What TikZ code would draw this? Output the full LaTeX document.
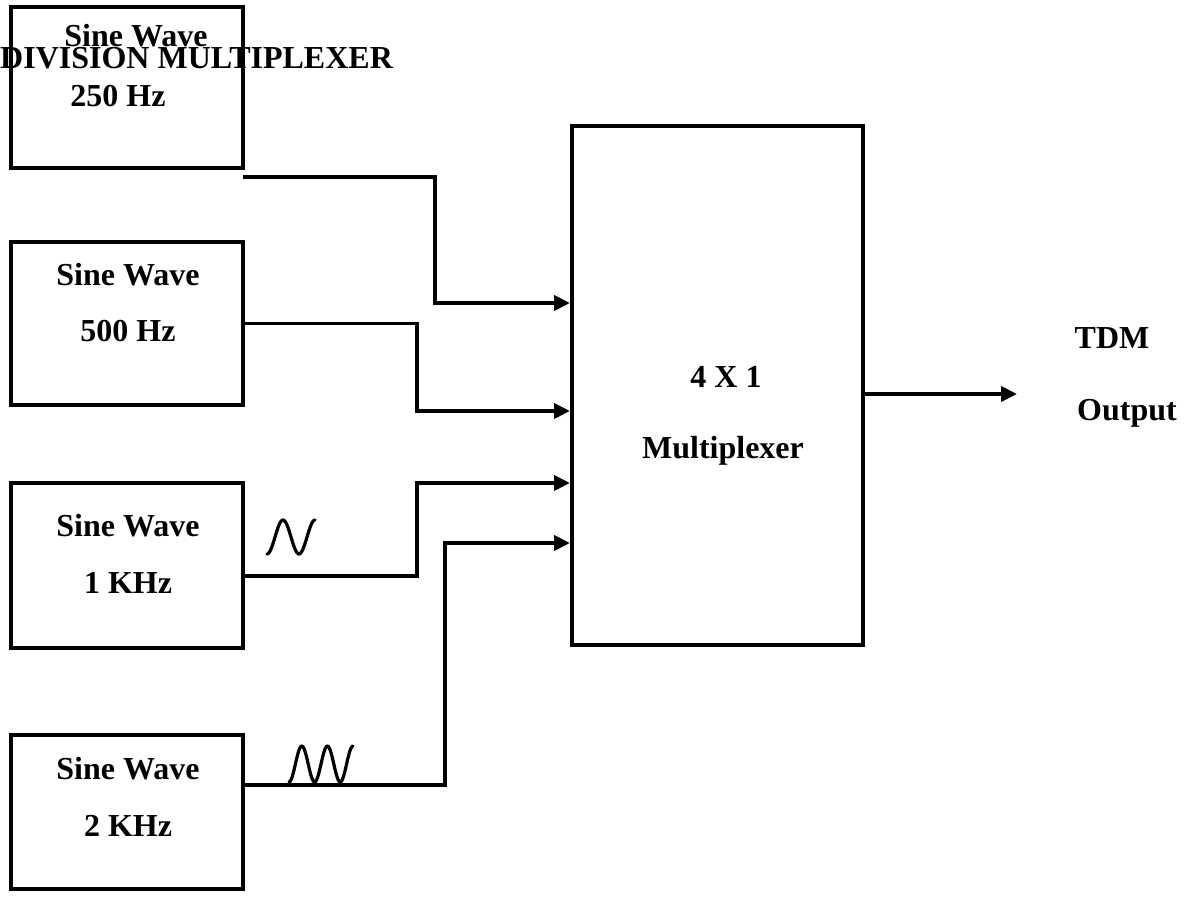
\documentclass[tikz,border=0pt]{standalone}
\usepackage{fontspec}
\setmainfont{Liberation Serif}
\usetikzlibrary{arrows.meta}

\begin{document}
\begin{tikzpicture}[
   x=1pt,y=-1pt,
   box/.style={draw,line width=4pt,inner sep=0pt,minimum width=232pt},
   txt/.style={font=\fontsize{32}{38}\selectfont\bfseries,inner sep=0pt,anchor=base},
   wire/.style={line width=3.8pt},
   wave/.style={line width=3.2pt,line cap=round,line join=round},
   >={Triangle[length=16pt,width=15pt]}]
  \useasboundingbox (0,0) rectangle (1185,899);
  % source boxes
  \node[box,minimum height=161pt] (b1) at (127,87.5) {};
  \node[box,minimum height=163pt] (b2) at (127,323.5) {};
  \node[box,minimum height=165pt] (b3) at (127,565.5) {};
  \node[box,minimum height=154pt] (b4) at (127,812) {};
  \node[box,minimum width=291pt,minimum height=519pt] (mux) at (717.5,385.5) {};
  % labels
  \node[txt] (t1a) at (136,47) {Sine Wave};
  \node[txt] (t1b) at (118,106) {250 Hz};
  \node[txt,anchor=base west] (title) at (0,68) {DIVISION MULTIPLEXER};
  \node[txt] (t2a) at (128,285) {Sine Wave};
  \node[txt] (t2b) at (128,341) {500 Hz};
  \node[txt] (t3a) at (128,536) {Sine Wave};
  \node[txt] (t3b) at (128,593) {1 KHz};
  \node[txt] (t4a) at (128,779) {Sine Wave};
  \node[txt] (t4b) at (128,836) {2 KHz};
  \node[txt] (m1) at (726,387) {4 X 1};
  \node[txt] (m2) at (723,458) {Multiplexer};
  \node[txt] (o1) at (1112,348) {TDM};
  \node[txt] (o2) at (1127,420) {Output};
  % mux inputs
  \coordinate (s1) at (243,177);
  \coordinate (in1) at (mux.west |- 0,303);
  \coordinate (in2) at (mux.west |- 0,411);
  \coordinate (in3) at (mux.west |- 0,483);
  \coordinate (in4) at (mux.west |- 0,543);
  \coordinate (out) at (1017,394);
  % connectors
  \draw[wire,->] (s1) -- (s1 -| 435,0) |- (in1);
  \draw[wire,->] (b2.east) -- (b2.east -| 417,0) |- (in2);
  \draw[wire,->] ([yshift=-10.5pt]b3.east) -- ([yshift=-10.5pt]b3.east -| 417,0) |- (in3);
  \draw[wire,->] ([yshift=27pt]b4.east) -- ([yshift=27pt]b4.east -| 445,0) |- (in4);
  \draw[wire,->] (mux.east |- out) -- (out);
  % wave marks
  \draw[wave] plot[domain=0:1,samples=60] ({267+48*\x},{537-17*sin(-90+540*\x)});
  \draw[wave] plot[domain=0:1,samples=80] ({289+64*\x},{764-18*sin(-90+900*\x)});
\end{tikzpicture}
\end{document}
